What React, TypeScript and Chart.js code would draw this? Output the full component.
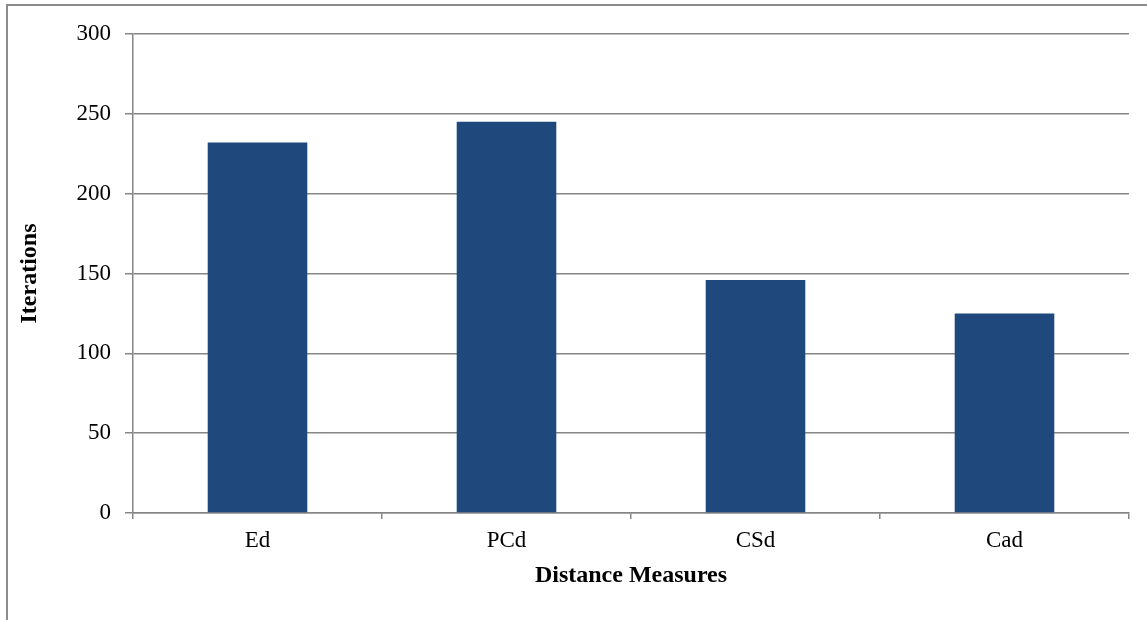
import React, { useEffect, useRef } from "react";
import { Chart, registerables } from "chart.js";

Chart.register(...registerables);

const categories = ["Ed", "PCd", "CSd", "Cad"];
const iterations = [232, 245, 146, 125];
const xTitle = "Distance Measures";
const yTitle = "Iterations";

const W = 1147;
const H = 620;
const GRID = "#868686";
const FONT = "'Liberation Serif', 'Times New Roman', serif";

const borderPlugin = {
  id: "outerBorder",
  beforeDraw(chart: any) {
    const ctx = chart.ctx;
    ctx.save();
    ctx.fillStyle = "#ffffff";
    ctx.fillRect(0, 0, W, H);
    ctx.strokeStyle = "#8c8c8c";
    ctx.lineWidth = 2;
    ctx.beginPath();
    ctx.moveTo(W, 5);
    ctx.lineTo(7, 5);
    ctx.lineTo(7, H);
    ctx.stroke();
    ctx.restore();
  },
};

export default function App() {
  const ref = useRef<HTMLCanvasElement | null>(null);
  useEffect(() => {
    if (!ref.current) return;
    const chart = new Chart(ref.current, {
      type: "bar",
      data: {
        labels: categories,
        datasets: [
          {
            data: iterations,
            backgroundColor: "#1F497D",
            borderWidth: 0,
            barPercentage: 0.8,
            categoryPercentage: 0.5,
          },
        ],
      },
      options: {
        responsive: false,
        animation: false,
        events: [],
        layout: { padding: { left: 0, top: 34, right: 18, bottom: 0 } },
        plugins: { legend: { display: false }, tooltip: { enabled: false } },
        scales: {
          x: {
            grid: {
              offset: true,
              drawOnChartArea: false,
              drawTicks: true,
              tickLength: 6,
              color: GRID,
              lineWidth: 1.5,
            },
            border: { display: true, color: GRID, width: 1.5 },
            ticks: {
              color: "#000",
              padding: 8,
              font: { family: FONT, size: 23 },
            },
            title: {
              display: true,
              text: xTitle,
              color: "#000",
              font: { family: FONT, size: 24, weight: "bold" },
              padding: { top: 0, bottom: 29.6 },
            },
            afterFit(scale: any) {
              scale.height = H - 513;
            },
          },
          y: {
            min: 0,
            max: 300,
            ticks: {
              stepSize: 50,
              color: "#000",
              padding: 14,
              font: { family: FONT, size: 23 },
            },
            grid: {
              color: GRID,
              lineWidth: 1.5,
              drawTicks: true,
              tickLength: 8,
            },
            border: { display: true, color: GRID, width: 1.5 },
            title: {
              display: true,
              text: yTitle,
              color: "#000",
              font: { family: FONT, size: 24, weight: "bold" },
              padding: { top: 15.6, bottom: 0 },
            },
            afterFit(scale: any) {
              scale.width = 133;
            },
          },
        },
      },
      plugins: [borderPlugin],
    } as any);
    return () => chart.destroy();
  }, []);
  return (
    <div style={{ position: "absolute", left: 0, top: 0, width: W, height: H, background: "#fff" }}>
      <canvas ref={ref} width={W} height={H} style={{ width: W, height: H, display: "block" }} />
    </div>
  );
}
